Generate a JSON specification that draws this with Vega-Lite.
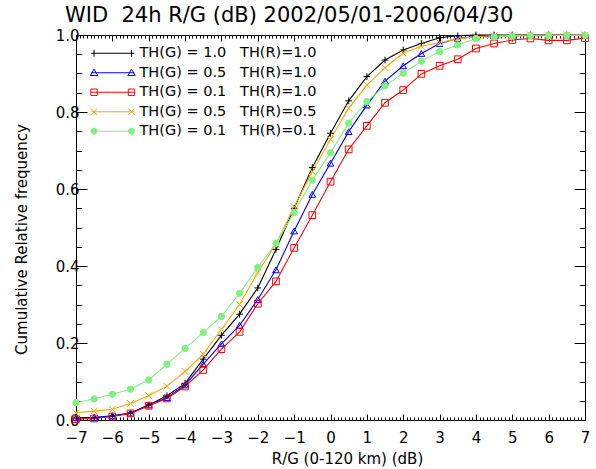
{
  "$schema": "https://vega.github.io/schema/vega-lite/v6.json",
  "width": 509,
  "height": 385,
  "autosize": {"type": "none"},
  "padding": {"left": 76, "top": 35, "right": 11, "bottom": 49},
  "title": {"text": "WID\u00a0\u00a024h R/G (dB) 2002/05/01-2006/04/30", "font": "DejaVu Sans", "fontSize": 21, "fontWeight": "normal", "color": "black", "anchor": "start", "frame": "group", "dx": -11, "offset": 2},
  "config": {
    "view": {"stroke": "black", "strokeWidth": 1},
    "axis": {"domainColor": "black", "tickColor": "black", "labelColor": "black", "titleColor": "black", "labelFont": "DejaVu Sans", "titleFont": "DejaVu Sans", "titleFontWeight": "normal", "grid": false, "labelFontSize": 15, "titleFontSize": 15, "domainWidth": 1, "tickWidth": 1, "labelOverlap": false, "labelFlush": false, "labelBound": false}
  },
  "datasets": {"cdf": [
    {"s":"a","x":-7,"y":0.005},{"s":"a","x":-6.5,"y":0.006},{"s":"a","x":-6,"y":0.010},{"s":"a","x":-5.5,"y":0.018},{"s":"a","x":-5,"y":0.039},{"s":"a","x":-4.5,"y":0.063},{"s":"a","x":-4,"y":0.095},{"s":"a","x":-3.5,"y":0.158},{"s":"a","x":-3,"y":0.220},{"s":"a","x":-2.5,"y":0.275},{"s":"a","x":-2,"y":0.343},{"s":"a","x":-1.5,"y":0.443},{"s":"a","x":-1,"y":0.550},{"s":"a","x":-0.5,"y":0.656},{"s":"a","x":0,"y":0.745},{"s":"a","x":0.5,"y":0.829},{"s":"a","x":1,"y":0.892},{"s":"a","x":1.5,"y":0.935},{"s":"a","x":2,"y":0.961},{"s":"a","x":2.5,"y":0.978},{"s":"a","x":3,"y":0.993},{"s":"a","x":3.5,"y":0.998},{"s":"a","x":4,"y":1.0},{"s":"a","x":4.5,"y":1.0},{"s":"a","x":5,"y":1.0},{"s":"a","x":5.5,"y":1.0},{"s":"a","x":6,"y":1.0},{"s":"a","x":6.5,"y":1.0},{"s":"a","x":7,"y":1.0},
    {"s":"b","x":-7,"y":0.006},{"s":"b","x":-6.5,"y":0.007},{"s":"b","x":-6,"y":0.011},{"s":"b","x":-5.5,"y":0.018},{"s":"b","x":-5,"y":0.039},{"s":"b","x":-4.5,"y":0.058},{"s":"b","x":-4,"y":0.091},{"s":"b","x":-3.5,"y":0.145},{"s":"b","x":-3,"y":0.198},{"s":"b","x":-2.5,"y":0.246},{"s":"b","x":-2,"y":0.313},{"s":"b","x":-1.5,"y":0.390},{"s":"b","x":-1,"y":0.491},{"s":"b","x":-0.5,"y":0.586},{"s":"b","x":0,"y":0.667},{"s":"b","x":0.5,"y":0.749},{"s":"b","x":1,"y":0.818},{"s":"b","x":1.5,"y":0.880},{"s":"b","x":2,"y":0.920},{"s":"b","x":2.5,"y":0.952},{"s":"b","x":3,"y":0.978},{"s":"b","x":3.5,"y":0.991},{"s":"b","x":4,"y":0.996},{"s":"b","x":4.5,"y":0.998},{"s":"b","x":5,"y":0.999},{"s":"b","x":5.5,"y":1.0},{"s":"b","x":6,"y":1.0},{"s":"b","x":6.5,"y":1.0},{"s":"b","x":7,"y":1.0},
    {"s":"c","x":-7,"y":0.002},{"s":"c","x":-6.5,"y":0.004},{"s":"c","x":-6,"y":0.009},{"s":"c","x":-5.5,"y":0.017},{"s":"c","x":-5,"y":0.037},{"s":"c","x":-4.5,"y":0.056},{"s":"c","x":-4,"y":0.087},{"s":"c","x":-3.5,"y":0.130},{"s":"c","x":-3,"y":0.184},{"s":"c","x":-2.5,"y":0.229},{"s":"c","x":-2,"y":0.302},{"s":"c","x":-1.5,"y":0.360},{"s":"c","x":-1,"y":0.447},{"s":"c","x":-0.5,"y":0.532},{"s":"c","x":0,"y":0.619},{"s":"c","x":0.5,"y":0.703},{"s":"c","x":1,"y":0.764},{"s":"c","x":1.5,"y":0.824},{"s":"c","x":2,"y":0.857},{"s":"c","x":2.5,"y":0.899},{"s":"c","x":3,"y":0.920},{"s":"c","x":3.5,"y":0.937},{"s":"c","x":4,"y":0.965},{"s":"c","x":4.5,"y":0.978},{"s":"c","x":5,"y":0.987},{"s":"c","x":5.5,"y":0.991},{"s":"c","x":6,"y":0.986},{"s":"c","x":6.5,"y":0.986},{"s":"c","x":7,"y":0.992},
    {"s":"d","x":-7,"y":0.019},{"s":"d","x":-6.5,"y":0.023},{"s":"d","x":-6,"y":0.028},{"s":"d","x":-5.5,"y":0.043},{"s":"d","x":-5,"y":0.063},{"s":"d","x":-4.5,"y":0.088},{"s":"d","x":-4,"y":0.126},{"s":"d","x":-3.5,"y":0.171},{"s":"d","x":-3,"y":0.235},{"s":"d","x":-2.5,"y":0.300},{"s":"d","x":-2,"y":0.383},{"s":"d","x":-1.5,"y":0.457},{"s":"d","x":-1,"y":0.554},{"s":"d","x":-0.5,"y":0.645},{"s":"d","x":0,"y":0.729},{"s":"d","x":0.5,"y":0.810},{"s":"d","x":1,"y":0.870},{"s":"d","x":1.5,"y":0.915},{"s":"d","x":2,"y":0.953},{"s":"d","x":2.5,"y":0.971},{"s":"d","x":3,"y":0.980},{"s":"d","x":3.5,"y":0.990},{"s":"d","x":4,"y":0.996},{"s":"d","x":4.5,"y":0.998},{"s":"d","x":5,"y":0.999},{"s":"d","x":5.5,"y":1.0},{"s":"d","x":6,"y":1.0},{"s":"d","x":6.5,"y":1.0},{"s":"d","x":7,"y":1.0},
    {"s":"e","x":-7,"y":0.045},{"s":"e","x":-6.5,"y":0.055},{"s":"e","x":-6,"y":0.067},{"s":"e","x":-5.5,"y":0.080},{"s":"e","x":-5,"y":0.104},{"s":"e","x":-4.5,"y":0.145},{"s":"e","x":-4,"y":0.186},{"s":"e","x":-3.5,"y":0.227},{"s":"e","x":-3,"y":0.269},{"s":"e","x":-2.5,"y":0.329},{"s":"e","x":-2,"y":0.396},{"s":"e","x":-1.5,"y":0.459},{"s":"e","x":-1,"y":0.539},{"s":"e","x":-0.5,"y":0.623},{"s":"e","x":0,"y":0.694},{"s":"e","x":0.5,"y":0.771},{"s":"e","x":1,"y":0.827},{"s":"e","x":1.5,"y":0.868},{"s":"e","x":2,"y":0.901},{"s":"e","x":2.5,"y":0.932},{"s":"e","x":3,"y":0.957},{"s":"e","x":3.5,"y":0.974},{"s":"e","x":4,"y":0.991},{"s":"e","x":4.5,"y":0.995},{"s":"e","x":5,"y":0.997},{"s":"e","x":5.5,"y":0.998},{"s":"e","x":6,"y":0.998},{"s":"e","x":6.5,"y":0.999},{"s":"e","x":7,"y":0.999}
  ]},
  "data": {"name": "cdf"},
  "encoding": {
    "x": {"field": "x", "type": "quantitative", "scale": {"domain": [-7, 7], "nice": false, "zero": false}, "axis": null},
    "y": {"field": "y", "type": "quantitative", "scale": {"domain": [0, 1], "nice": false}, "axis": null},
    "stroke": {"field": "s", "type": "nominal", "scale": {"domain": ["a","b","c","d","e"], "range": ["#000000","#0000ff","#ff0000","#ffa500","#80f080"]}, "legend": null}
  },
  "layer": [
    {
      "mark": {"type": "line", "strokeWidth": 1.1},
      "encoding": {
        "x": {"field": "x", "type": "quantitative",
          "axis": {"orient": "bottom",
            "values": [-7,-6.9,-6.8,-6.7,-6.6,-6.5,-6.4,-6.3,-6.2,-6.1,-6,-5.9,-5.8,-5.7,-5.6,-5.5,-5.4,-5.3,-5.2,-5.1,-5,-4.9,-4.8,-4.7,-4.6,-4.5,-4.4,-4.3,-4.2,-4.1,-4,-3.9,-3.8,-3.7,-3.6,-3.5,-3.4,-3.3,-3.2,-3.1,-3,-2.9,-2.8,-2.7,-2.6,-2.5,-2.4,-2.3,-2.2,-2.1,-2,-1.9,-1.8,-1.7,-1.6,-1.5,-1.4,-1.3,-1.2,-1.1,-1,-0.9,-0.8,-0.7,-0.6,-0.5,-0.4,-0.3,-0.2,-0.1,0,0.1,0.2,0.3,0.4,0.5,0.6,0.7,0.8,0.9,1,1.1,1.2,1.3,1.4,1.5,1.6,1.7,1.8,1.9,2,2.1,2.2,2.3,2.4,2.5,2.6,2.7,2.8,2.9,3,3.1,3.2,3.3,3.4,3.5,3.6,3.7,3.8,3.9,4,4.1,4.2,4.3,4.4,4.5,4.6,4.7,4.8,4.9,5,5.1,5.2,5.3,5.4,5.5,5.6,5.7,5.8,5.9,6,6.1,6.2,6.3,6.4,6.5,6.6,6.7,6.8,6.9,7],
            "tickSize": {"condition": {"test": "abs(datum.value - round(datum.value)) < 1e-6", "value": -6}, "value": -3},
            "labelExpr": "abs(datum.value - round(datum.value)) < 1e-6 ? format(datum.value, 'd') : ''",
            "labelPadding": 16, "title": "R/G (0-120 km) (dB)", "titlePadding": 3, "titleX": 271}},
        "y": {"field": "y", "type": "quantitative",
          "axis": {"orient": "left",
            "values": [0,0.05,0.1,0.15,0.2,0.25,0.3,0.35,0.4,0.45,0.5,0.55,0.6,0.65,0.7,0.75,0.8,0.85,0.9,0.95,1],
            "tickSize": {"condition": {"test": "abs(datum.value*5 - round(datum.value*5)) < 1e-6", "value": -11}, "value": -5.5},
            "labelExpr": "abs(datum.value*5 - round(datum.value*5)) < 1e-6 ? format(datum.value, '.1f') : ''",
            "labelPadding": 8, "title": "Cumulative Relative frequency", "titlePadding": 26, "titleY": 204}},
        "stroke": {"field": "s", "type": "nominal",
          "legend": {"orient": "none", "legendX": 29.5, "legendY": 11, "padding": 0, "title": null, "symbolSize": 64, "symbolStrokeWidth": 1, "labelFont": "DejaVu Sans", "labelFontSize": 14.5, "labelColor": "black", "labelOffset": 19.5, "labelLimit": 0, "rowPadding": 4.5,
            "labelExpr": "datum.value == 'a' ? 'TH(G) = 1.0\u00a0\u00a0\u00a0TH(R)=1.0' : datum.value == 'b' ? 'TH(G) = 0.5\u00a0\u00a0\u00a0TH(R)=1.0' : datum.value == 'c' ? 'TH(G) = 0.1\u00a0\u00a0\u00a0TH(R)=1.0' : datum.value == 'd' ? 'TH(G) = 0.5\u00a0\u00a0\u00a0TH(R)=0.5' : 'TH(G) = 0.1\u00a0\u00a0\u00a0TH(R)=0.1'",
            "encode": {"symbols": {"update": {
              "shape": {"signal": "datum.value == 'a' ? 'M-5.375,0H5.375M-4.68,-0.86V0.86M4.68,-0.86V0.86' : datum.value == 'b' ? 'M-5.375,0H5.375M-4.68,-0.91L-3.77,0.7L-5.59,0.7ZM4.68,-0.91L5.59,0.7L3.77,0.7Z' : datum.value == 'c' ? 'M-5.375,0H5.375M-5.48,-0.8H-3.88V0.8H-5.48ZM3.88,-0.8H5.48V0.8H3.88Z' : datum.value == 'd' ? 'M-5.375,0H5.375M-5.48,-0.8L-3.88,0.8M-5.48,0.8L-3.88,-0.8M3.88,-0.8L5.48,0.8M3.88,0.8L5.48,-0.8' : 'M-5.375,0H5.375M-3.93,0A0.75,0.75,0,1,1,-5.43,0A0.75,0.75,0,1,1,-3.93,0ZM5.43,0A0.75,0.75,0,1,1,3.93,0A0.75,0.75,0,1,1,5.43,0Z'"},
              "fill": {"signal": "datum.value == 'e' ? '#80f080' : 'transparent'"},
              "strokeWidth": {"value": 1},
              "size": {"value": 64}}}}}}
      }
    },
    {
      "transform": [{"filter": "datum.s == 'a'"}],
      "mark": {"type": "point", "shape": "M-1,0H1M0,-1V1", "size": 45, "strokeWidth": 1, "filled": false, "opacity": 1},
      "encoding": {
        "x": {"field": "x", "type": "quantitative",
          "axis": {"orient": "top", "labels": false, "title": null,
            "values": [-7,-6.9,-6.8,-6.7,-6.6,-6.5,-6.4,-6.3,-6.2,-6.1,-6,-5.9,-5.8,-5.7,-5.6,-5.5,-5.4,-5.3,-5.2,-5.1,-5,-4.9,-4.8,-4.7,-4.6,-4.5,-4.4,-4.3,-4.2,-4.1,-4,-3.9,-3.8,-3.7,-3.6,-3.5,-3.4,-3.3,-3.2,-3.1,-3,-2.9,-2.8,-2.7,-2.6,-2.5,-2.4,-2.3,-2.2,-2.1,-2,-1.9,-1.8,-1.7,-1.6,-1.5,-1.4,-1.3,-1.2,-1.1,-1,-0.9,-0.8,-0.7,-0.6,-0.5,-0.4,-0.3,-0.2,-0.1,0,0.1,0.2,0.3,0.4,0.5,0.6,0.7,0.8,0.9,1,1.1,1.2,1.3,1.4,1.5,1.6,1.7,1.8,1.9,2,2.1,2.2,2.3,2.4,2.5,2.6,2.7,2.8,2.9,3,3.1,3.2,3.3,3.4,3.5,3.6,3.7,3.8,3.9,4,4.1,4.2,4.3,4.4,4.5,4.6,4.7,4.8,4.9,5,5.1,5.2,5.3,5.4,5.5,5.6,5.7,5.8,5.9,6,6.1,6.2,6.3,6.4,6.5,6.6,6.7,6.8,6.9,7],
            "tickSize": {"condition": {"test": "abs(datum.value - round(datum.value)) < 1e-6", "value": -6}, "value": -3}}},
        "y": {"field": "y", "type": "quantitative",
          "axis": {"orient": "right", "labels": false, "title": null,
            "values": [0,0.05,0.1,0.15,0.2,0.25,0.3,0.35,0.4,0.45,0.5,0.55,0.6,0.65,0.7,0.75,0.8,0.85,0.9,0.95,1],
            "tickSize": {"condition": {"test": "abs(datum.value*5 - round(datum.value*5)) < 1e-6", "value": -11}, "value": -5.5}}}
      }
    },
    {
      "transform": [{"filter": "datum.s == 'b'"}],
      "mark": {"type": "point", "shape": "triangle-up", "size": 45, "strokeWidth": 1, "filled": false, "opacity": 1}
    },
    {
      "transform": [{"filter": "datum.s == 'c'"}],
      "mark": {"type": "point", "shape": "square", "size": 45, "strokeWidth": 1, "filled": false, "opacity": 1}
    },
    {
      "transform": [{"filter": "datum.s == 'd'"}],
      "mark": {"type": "point", "shape": "M-1,-1L1,1M-1,1L1,-1", "size": 45, "strokeWidth": 1, "filled": false, "opacity": 1}
    },
    {
      "transform": [{"filter": "datum.s == 'e'"}],
      "mark": {"type": "point", "shape": "circle", "size": 40, "strokeWidth": 1, "filled": true, "opacity": 1},
      "encoding": {
        "stroke": {"field": "s", "type": "nominal", "legend": null},
        "fill": {"field": "s", "type": "nominal", "scale": {"domain": ["e"], "range": ["#80f080"]}, "legend": null}
      }
    }
  ]
}
